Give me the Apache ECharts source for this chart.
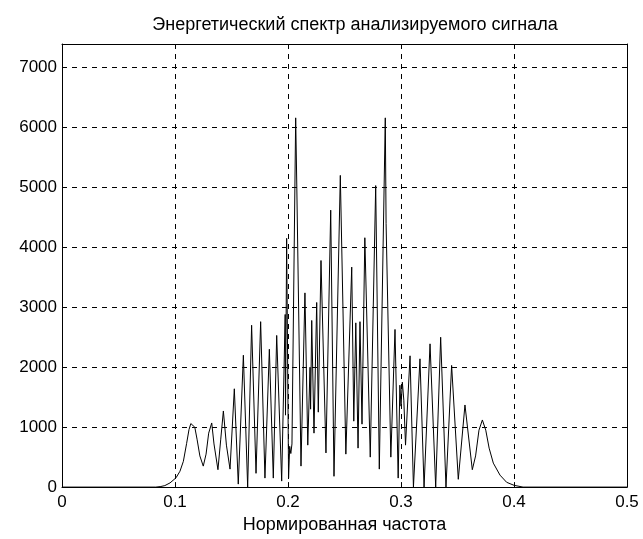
<!DOCTYPE html>
<html>
<head>
<meta charset="utf-8">
<script src="https://cdn.jsdelivr.net/npm/echarts@6/dist/echarts.min.js"></script>
<style>
html,body{margin:0;padding:0;background:#fff;}
#c{width:643px;height:539px;}
</style>
</head>
<body>
<div id="c"></div>
<script>
// ---- data ----
var titleText = 'Энергетический спектр анализируемого сигнала';
var xLabel = 'Нормированная частота';
var xTicks = [0, 0.1, 0.2, 0.3, 0.4, 0.5];
var yTicks = [0, 1000, 2000, 3000, 4000, 5000, 6000, 7000];

var freq = [
  0, 0.083, 0.0875, 0.091, 0.0956, 0.1009, 0.1044, 0.1074, 0.1103, 0.1124,
  0.114, 0.1157, 0.1175, 0.1195, 0.122, 0.125, 0.1275, 0.1298, 0.1325, 0.1345,
  0.138, 0.1405, 0.1428, 0.1455, 0.1487, 0.1525, 0.156, 0.1605, 0.1643, 0.1678,
  0.1717, 0.1758, 0.1796, 0.1835, 0.187, 0.19, 0.1944, 0.1975, 0.1978, 0.1988,
  0.2005, 0.2015, 0.2025, 0.2035, 0.2068, 0.2078, 0.2115, 0.215, 0.2175, 0.2195,
  0.22, 0.221, 0.223, 0.2254, 0.2268, 0.2292, 0.2336, 0.2378, 0.2407, 0.2463,
  0.2512, 0.2564, 0.2582, 0.26, 0.262, 0.2637, 0.2655, 0.268, 0.2728, 0.2776,
  0.2808, 0.2861, 0.2868, 0.291, 0.2947, 0.2975, 0.299, 0.3, 0.3012, 0.3025,
  0.304, 0.308, 0.311, 0.3168, 0.3204, 0.3257, 0.3307, 0.3351, 0.3398, 0.3448,
  0.3507, 0.3566, 0.3631, 0.366, 0.369, 0.372, 0.375, 0.378, 0.3817, 0.3876,
  0.3935, 0.4, 0.408, 0.5
];
var power = [
  0, 0, 10, 25, 70, 155, 265, 430, 730, 960,
  1060, 1075, 1000, 800, 520, 350, 550, 900, 1070, 720,
  290, 800, 1270, 700, 300, 1640, 50, 2200, 0, 2700,
  230, 2760, 150, 2300, 150, 2530, 100, 2880, 1200, 4150,
  150, 680, 560, 720, 6160, 5000, 350, 3240, 700, 2000,
  1300, 2780, 900, 3080, 1250, 3780, 570, 4620, 180, 5200,
  550, 3670, 1100, 2740, 650, 2760, 1050, 4160, 500, 5030,
  300, 6160, 4400, 500, 2630, 150, 1700, 1350, 1750, 1450,
  700, 2190, 0, 2140, 0, 2390, 0, 2500, 0, 2030,
  130, 1370, 290, 520, 950, 1120, 950, 650, 400, 200,
  80, 30, 0, 0
];

var seriesData = freq.map(function (f, i) { return [f, power[i]]; });

var FONT = 'Liberation Sans';
var chart = echarts.init(document.getElementById('c'), null, {renderer: 'canvas'});

var gridLine = {show: true, lineStyle: {color: '#000', type: [5, 5], width: 1}};

chart.setOption({
  backgroundColor: '#fff',
  animation: false,
  title: {
    text: titleText,
    left: 350,
    textAlign: 'center',
    top: 11,
    textStyle: {fontFamily: FONT, fontSize: 18, fontWeight: 'normal', color: '#000'}
  },
  grid: {left: 62, right: 16, top: 44, bottom: 48, containLabel: false},
  xAxis: [{
    type: 'value', min: xTicks[0], max: xTicks[xTicks.length - 1], interval: 0.1,
    position: 'bottom',
    name: xLabel, nameLocation: 'middle', nameGap: 26,
    nameTextStyle: {fontFamily: FONT, fontSize: 18, color: '#000'},
    axisLine: {show: true, onZero: false, lineStyle: {color: '#000', width: 1}},
    axisTick: {show: true, inside: true, length: 5, lineStyle: {color: '#000'}},
    axisLabel: {fontFamily: FONT, fontSize: 17, color: '#000', margin: 7,
      formatter: function (v) { return String(Math.round(v * 10) / 10); }},
    splitLine: gridLine
  }, {
    type: 'value', min: xTicks[0], max: xTicks[xTicks.length - 1], interval: 0.1,
    position: 'top',
    axisLine: {show: true, onZero: false, lineStyle: {color: '#000', width: 1}},
    axisTick: {show: true, inside: true, length: 5, lineStyle: {color: '#000'}},
    axisLabel: {show: false},
    splitLine: {show: false}
  }],
  yAxis: [{
    type: 'value', min: yTicks[0], max: 7392, interval: 1000,
    position: 'left',
    axisLine: {show: true, onZero: false, lineStyle: {color: '#000', width: 1}},
    axisTick: {show: true, inside: true, length: 5, lineStyle: {color: '#000'}},
    axisLabel: {fontFamily: FONT, fontSize: 17, color: '#000', margin: 5, showMaxLabel: false,
      formatter: function (v) { return yTicks.indexOf(v) >= 0 ? String(v) : ''; }},
    splitLine: gridLine
  }, {
    type: 'value', min: yTicks[0], max: 7392, interval: 1000,
    position: 'right',
    axisLine: {show: true, onZero: false, lineStyle: {color: '#000', width: 1}},
    axisTick: {show: true, inside: true, length: 5, lineStyle: {color: '#000'}},
    axisLabel: {show: false},
    splitLine: {show: false}
  }],
  series: [{
    type: 'line',
    xAxisIndex: 0, yAxisIndex: 0,
    data: seriesData,
    showSymbol: false,
    symbol: 'none',
    lineStyle: {color: '#000', width: 1},
    smooth: false,
    clip: true
  }]
});
</script>
</body>
</html>
